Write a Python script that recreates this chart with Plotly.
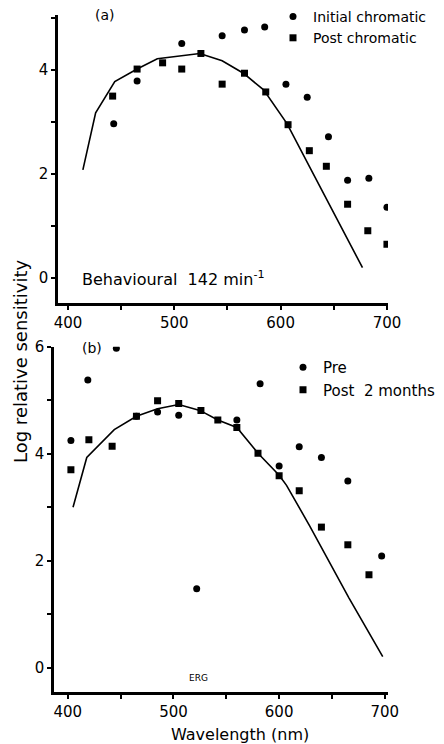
import plotly.graph_objects as go

# ---- Data ----
# Panel (a): behavioural
curve_a_nm = [414, 426, 444, 465, 484, 505, 524, 545, 565, 584, 606, 628, 653, 677]
curve_a_val = [2.08, 3.18, 3.78, 4.02, 4.22, 4.28, 4.32, 4.18, 3.94, 3.62, 2.97, 2.11, 1.12, 0.20]

initial_nm = [443, 465, 507, 545, 566, 585, 605, 625, 645, 663, 683, 700]
initial_val = [2.97, 3.79, 4.51, 4.66, 4.77, 4.83, 3.73, 3.48, 2.72, 1.88, 1.92, 1.36]

postchrom_nm = [442, 465, 489, 507, 525, 545, 566, 586, 607, 627, 643, 663, 682, 700]
postchrom_val = [3.50, 4.02, 4.14, 4.02, 4.32, 3.73, 3.94, 3.58, 2.95, 2.45, 2.15, 1.42, 0.91, 0.65]

# Panel (b): ERG
curve_b_nm = [405, 418, 444, 465, 485, 505, 525, 542, 560, 580, 600, 607, 629, 666, 698]
curve_b_val = [3.00, 3.93, 4.45, 4.70, 4.84, 4.92, 4.81, 4.63, 4.49, 4.01, 3.60, 3.41, 2.65, 1.31, 0.21]

pre_nm = [403, 419, 446, 465, 485, 505, 522, 560, 582, 600, 619, 640, 665, 697]
pre_val = [4.25, 5.38, 5.97, 4.70, 4.78, 4.72, 1.48, 4.63, 5.31, 3.77, 4.13, 3.93, 3.49, 2.09]

post2_nm = [403, 420, 442, 465, 485, 505, 526, 542, 560, 580, 600, 619, 640, 665, 685]
post2_val = [3.70, 4.26, 4.14, 4.70, 4.99, 4.94, 4.81, 4.63, 4.49, 4.01, 3.59, 3.31, 2.63, 2.30, 1.74]

x_ticks = [400, 500, 600, 700]
ya_ticks = [0, 2, 4]
yb_ticks = [0, 2, 4, 6]

# the page body has an 8px margin; size the figure so it fills the 444x744 window
OFF = 8
W, H = 444 - OFF, 744 - OFF
FONT = "DejaVu Sans"

def px_x(p):
    return (p - OFF) / W

def px_y(p):
    return 1 - (p - OFF) / H

fig = go.Figure()

# panel (a)
fig.add_trace(go.Scatter(x=curve_a_nm, y=curve_a_val, mode="lines",
                         line=dict(color="black", width=1.6), showlegend=False,
                         xaxis="x", yaxis="y"))
fig.add_trace(go.Scatter(x=initial_nm, y=initial_val, mode="markers", name="Initial chromatic",
                         marker=dict(symbol="circle", size=7, color="black"),
                         xaxis="x", yaxis="y", legend="legend"))
fig.add_trace(go.Scatter(x=postchrom_nm, y=postchrom_val, mode="markers", name="Post chromatic",
                         marker=dict(symbol="square", size=7, color="black"),
                         xaxis="x", yaxis="y", legend="legend"))

# panel (b)
fig.add_trace(go.Scatter(x=curve_b_nm, y=curve_b_val, mode="lines",
                         line=dict(color="black", width=1.6), showlegend=False,
                         xaxis="x2", yaxis="y2"))
fig.add_trace(go.Scatter(x=pre_nm, y=pre_val, mode="markers", name="Pre",
                         marker=dict(symbol="circle", size=7, color="black"),
                         xaxis="x2", yaxis="y2", legend="legend2"))
fig.add_trace(go.Scatter(x=post2_nm, y=post2_val, mode="markers", name="Post  2 months",
                         marker=dict(symbol="square", size=7, color="black"),
                         xaxis="x2", yaxis="y2", legend="legend2"))

axis_common = dict(showgrid=False, zeroline=False, showline=True, linecolor="black",
                   linewidth=2.5, ticks="outside", tickcolor="black", tickwidth=1.5,
                   ticklen=4, automargin=False,
                   tickfont=dict(family=FONT, size=15, color="black"))

minor_x = dict(tickvals=[450, 550, 650], ticks="outside", ticklen=4,
               tickcolor="black", tickwidth=1.5)
minor_y = dict(tickvals=[1, 3, 5], ticks="outside", ticklen=4,
               tickcolor="black", tickwidth=1.5)

fig.update_layout(
    width=W, height=H,
    margin=dict(l=0, r=0, t=0, b=0, autoexpand=False),
    paper_bgcolor="white", plot_bgcolor="white",
    font=dict(family=FONT, color="black"),
    xaxis=dict(**axis_common, domain=[px_x(58), px_x(388)], range=[390.6, 701],
               anchor="y", tickvals=x_ticks, ticktext=[str(v) for v in x_ticks],
               minor=minor_x),
    yaxis=dict(**axis_common, domain=[px_y(303), px_y(15)], range=[-0.48, 5.06],
               anchor="x", tickvals=ya_ticks, ticktext=[str(v) for v in ya_ticks],
               minor=minor_y),
    xaxis2=dict(**axis_common, domain=[px_x(54), px_x(388)], range=[387, 703],
                anchor="y2", tickvals=x_ticks, ticktext=[str(v) for v in x_ticks],
                minor=minor_x),
    yaxis2=dict(**axis_common, domain=[px_y(692), px_y(346.7)], range=[-0.45, 6.0],
                anchor="x2", tickvals=yb_ticks, ticktext=[str(v) for v in yb_ticks],
                minor=minor_y),
    legend=dict(x=px_x(273), y=px_y(1), xanchor="left", yanchor="top",
                bgcolor="rgba(0,0,0,0)", font=dict(family=FONT, size=14),
                itemwidth=30, tracegroupgap=0),
    legend2=dict(x=px_x(283), y=px_y(351), xanchor="left", yanchor="top",
                 bgcolor="rgba(0,0,0,0)", font=dict(family=FONT, size=15),
                 itemwidth=30, tracegroupgap=0),
)

annots = [
    dict(text="Log relative sensitivity", x=px_x(20), y=px_y(362), textangle=-90,
         font=dict(size=18)),
    dict(text="Wavelength (nm)", x=px_x(240), y=px_y(734), font=dict(size=16)),
    dict(text="(a)", x=px_x(93), y=px_y(15), xanchor="left", font=dict(size=14)),
    dict(text="(b)", x=px_x(80), y=px_y(348), xanchor="left", font=dict(size=14)),
    dict(text="Behavioural  142 min<sup>-1</sup>", x=px_x(80), y=px_y(278),
         xanchor="left", font=dict(size=16)),
    dict(text="ERG", x=px_x(198), y=px_y(678), font=dict(size=9)),
]
for a in annots:
    a.setdefault("xref", "paper")
    a.setdefault("yref", "paper")
    a.setdefault("xanchor", "center")
    a.setdefault("yanchor", "middle")
    a.setdefault("showarrow", False)
    a["font"] = dict(family=FONT, color="black", **a["font"])
    fig.add_annotation(**a)

fig.write_html("out.html")
